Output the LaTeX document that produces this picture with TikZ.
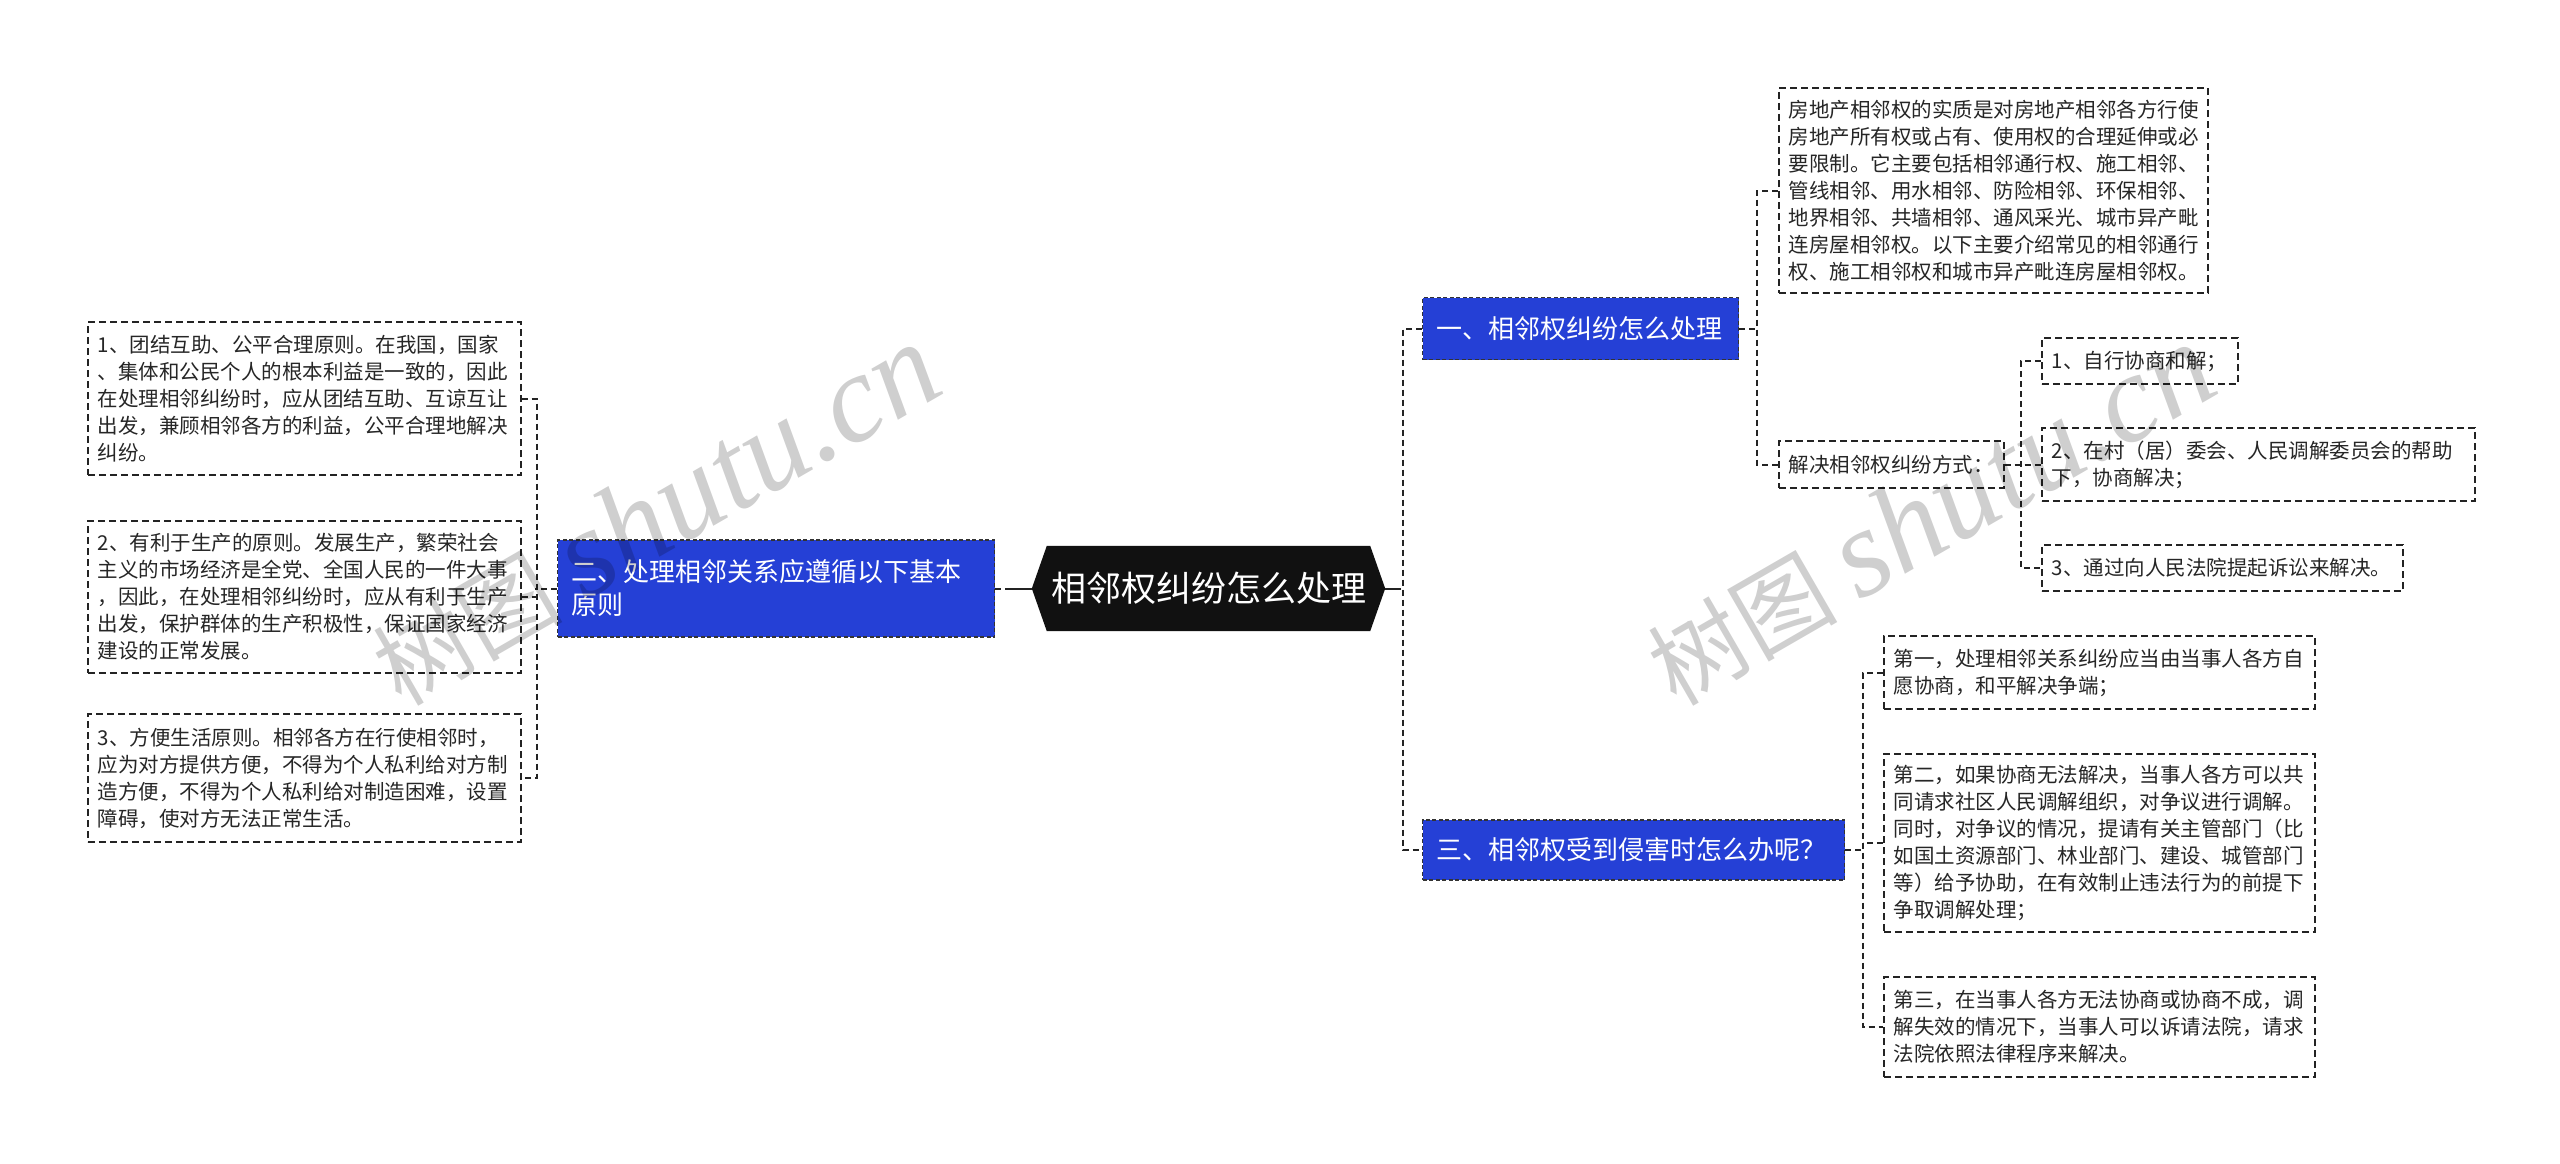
\documentclass[tikz,border=0pt]{standalone}
\usepackage{fontspec}
\newfontfamily\cjk{Noto Sans CJK SC}
\newfontfamily\wmserif{Liberation Serif}
\usetikzlibrary{calc}
\definecolor{bluefill}{RGB}{37,64,214}
\definecolor{rootfill}{RGB}{17,17,17}
\definecolor{linec}{RGB}{35,35,35}
\tikzset{
 conn/.style={draw=linec, line width=2pt, dash pattern=on 6pt off 4pt},
 stub/.style={draw=linec, line width=2pt},
 textbox/.style={draw=linec, line width=1.6pt, dash pattern=on 7pt off 4pt, fill=white, anchor=west, align=left, inner xsep=10pt, inner ysep=0pt, font=\cjk\fontsize{20.5}{27}\selectfont, text=black!85},
 bluebox/.style={draw=black!80, line width=1.3pt, dash pattern=on 4pt off 2.5pt, fill=bluefill, anchor=west, align=left, inner xsep=14pt, inner ysep=0pt, font=\cjk\fontsize{26}{33}\selectfont, text=white},
 wmark/.style={rotate=30, text=black, opacity=0.19, inner sep=0pt},
}
\newcommand{\wmtext}{{\cjk\fontsize{95}{100}\selectfont 树图}\hspace{22pt}{\wmserif\itshape\fontsize{125}{130}\selectfont shutu.cn}}
\begin{document}
\begin{tikzpicture}[x=1pt,y=-1pt]
\useasboundingbox (0,0) rectangle (2560,1164);
\fill[white] (0,0) rectangle (2560,1164);

% root
\node[minimum width=323pt, minimum height=85pt, inner sep=0pt] (root) at (1208.5,588.5) {};
\coordinate (rootL) at ($(root.west)+(-15pt,0)$);
\coordinate (rootR) at ($(root.east)+(15pt,0)$);
\fill[rootfill] (root.north west) -- (root.north east) -- (rootR) -- (root.south east) -- (root.south west) -- (rootL) -- cycle;
\node[text=white, font=\cjk\fontsize{35}{40}\selectfont] (roottext) at (root.center) {相邻权纠纷怎么处理};

% left branch
\node[bluebox, text width=409pt, minimum height=97pt] (n2) at (557,588.5) {二、处理相邻关系应遵循以下基本\\原则};
\node[textbox, text width=413pt, minimum height=153pt] (L1) at (87,398.5) {1、团结互助、公平合理原则。在我国，国家\\、集体和公民个人的根本利益是一致的，因此\\在处理相邻纠纷时，应从团结互助、互谅互让\\出发，兼顾相邻各方的利益，公平合理地解决\\纠纷。};
\node[textbox, text width=413pt, minimum height=152pt] (L2) at (87,597) {2、有利于生产的原则。发展生产，繁荣社会\\主义的市场经济是全党、全国人民的一件大事\\，因此，在处理相邻纠纷时，应从有利于生产\\出发，保护群体的生产积极性，保证国家经济\\建设的正常发展。};
\node[textbox, text width=413pt, minimum height=128pt] (L3) at (87,778) {3、方便生活原则。相邻各方在行使相邻时，\\应为对方提供方便，不得为个人私利给对方制\\造方便，不得为个人私利给对制造困难，设置\\障碍，使对方无法正常生活。};

% right branch
\node[bluebox, text width=288pt, minimum height=62pt] (n1) at (1422,328.5) {一、相邻权纠纷怎么处理};
\node[bluebox, text width=394pt, minimum height=60pt] (n3) at (1422,850) {三、相邻权受到侵害时怎么办呢？};

\node[textbox, text width=409pt, minimum height=205pt] (t1) at (1778,190.5) {房地产相邻权的实质是对房地产相邻各方行使\\房地产所有权或占有、使用权的合理延伸或必\\要限制。它主要包括相邻通行权、施工相邻、\\管线相邻、用水相邻、防险相邻、环保相邻、\\地界相邻、共墙相邻、通风采光、城市异产毗\\连房屋相邻权。以下主要介绍常见的相邻通行\\权、施工相邻权和城市异产毗连房屋相邻权。};
\node[textbox, text width=205pt, minimum height=47pt] (jj) at (1778,464.5) {解决相邻权纠纷方式：};

\node[textbox, text width=176pt, minimum height=46pt] (c1) at (2041,361) {1、自行协商和解；};
\node[textbox, text width=413pt, minimum height=73pt] (c2) at (2041,464.5) {2、在村（居）委会、人民调解委员会的帮助\\下，协商解决；};
\node[textbox, text width=341pt, minimum height=46pt] (c3) at (2041,568) {3、通过向人民法院提起诉讼来解决。};

\node[textbox, text width=411pt, minimum height=73pt] (s1) at (1883,672.5) {第一，处理相邻关系纠纷应当由当事人各方自\\愿协商，和平解决争端；};
\node[textbox, text width=411pt, minimum height=178pt] (s2) at (1883,843) {第二，如果协商无法解决，当事人各方可以共\\同请求社区人民调解组织，对争议进行调解。\\同时，对争议的情况，提请有关主管部门（比\\如国土资源部门、林业部门、建设、城管部门\\等）给予协助，在有效制止违法行为的前提下\\争取调解处理；};
\node[textbox, text width=411pt, minimum height=100pt] (s3) at (1883,1027) {第三，在当事人各方无法协商或协商不成，调\\解失效的情况下，当事人可以诉请法院，请求\\法院依照法律程序来解决。};

% connectors
\draw[conn] (n2.east) -- (rootL);
\draw[stub] (rootL) -- ++(-27pt,0);
\draw[conn] (n2.west) -- ++(-22pt,0);
\draw[conn] (L1.east) -- ++(15pt,0) |- (L3.east);
\draw[conn] (L2.east) -- ++(15pt,0);

\draw[stub] (rootR) -- ++(14pt,0);
\draw[conn] (rootR) -- ++(18pt,0);
\draw[conn] (n1.west) -- ++(-19pt,0) |- (n3.west);

\draw[conn] (n1.east) -- ++(19pt,0);
\draw[conn] (t1.west) -- ++(-21pt,0) |- (jj.west);

\draw[conn] (jj.east) -- (c2.west);
\draw[conn] (c1.west) -- ++(-20pt,0) |- (c3.west);

\draw[conn] (n3.east) -- ++(19pt,0);
\draw[conn] (s1.west) -- ++(-20pt,0) |- (s3.west);
\draw[conn] (s2.west) -- ++(-20pt,0);

% watermarks
\node[wmark] (wm1) at (655,515) {\wmtext};
\node[wmark] (wm2) at (1930,515) {\wmtext};
\end{tikzpicture}
\end{document}
